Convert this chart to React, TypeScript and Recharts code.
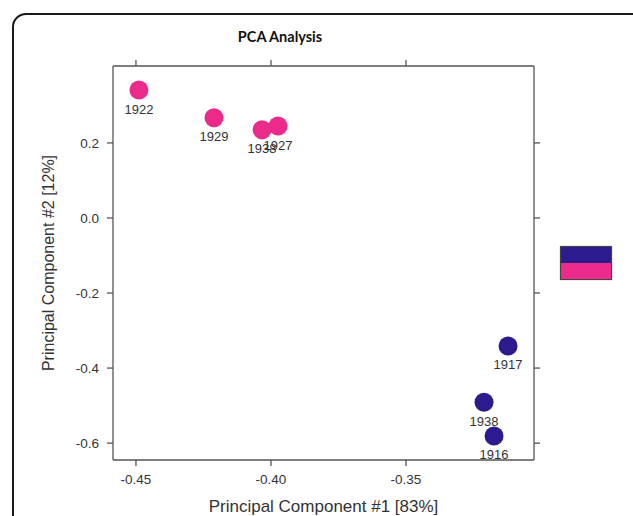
import { ScatterChart, Scatter, XAxis, YAxis, Legend } from "recharts";

// sample years and their PCA scores
const pinkYears = ["1922", "1929", "1938", "1927"];
const pinkPC1 = [-0.4489, -0.4211, -0.4033, -0.3974];
const pinkPC2 = [0.341, 0.267, 0.235, 0.245];

const navyYears = ["1917", "1938", "1916"];
const navyPC1 = [-0.3122, -0.3211, -0.3174];
const navyPC2 = [-0.341, -0.491, -0.581];

const xTicks = [-0.45, -0.4, -0.35];
const yTicks = [0.2, 0.0, -0.2, -0.4, -0.6];

const PINK = "#EC2A8C";
const NAVY = "#2C1B8F";
const AXIS = "#555";
const FONT = "'Liberation Sans', Arial, sans-serif";

const toPoints = (pc1: number[], pc2: number[], years: string[]) =>
  pc1.map((x, i) => ({ pc1: x, pc2: pc2[i], year: years[i] }));

const pinkData = toPoints(pinkPC1, pinkPC2, pinkYears);
const navyData = toPoints(navyPC1, navyPC2, navyYears);

const Dot = (props: any) => {
  const { cx, cy, fill, payload } = props;
  return (
    <g>
      <circle cx={cx} cy={cy} r={9.5} fill={fill} />
      <text
        x={cx}
        y={cy + 19}
        textAnchor="middle"
        dominantBaseline="central"
        fontSize={13}
        fontFamily={FONT}
        fill="#333"
      >
        {payload.year}
      </text>
    </g>
  );
};

const XLabel = (props: any) => {
  const { viewBox } = props;
  return (
    <text
      x={viewBox.x + viewBox.width / 2}
      y={viewBox.y + 46}
      textAnchor="middle"
      dominantBaseline="central"
      fontSize={17}
      fontFamily={FONT}
      fill="#333"
    >
      Principal Component #1 [83%]
    </text>
  );
};

const YLabel = (props: any) => {
  const { viewBox } = props;
  const x = 48;
  const y = viewBox.y + viewBox.height / 2;
  return (
    <text
      x={x}
      y={y}
      transform={`rotate(-90, ${x}, ${y})`}
      textAnchor="middle"
      dominantBaseline="central"
      fontSize={16}
      fontFamily={FONT}
      fill="#333"
    >
      Principal Component #2 [12%]
    </text>
  );
};

const KeyBox = (props: any) => {
  const { payload } = props;
  return (
    <div style={{ width: 50, border: "1px solid #444", boxShadow: "0 0 1px #888" }}>
      {(payload || []).map((p: any) => (
        <div key={p.value} style={{ height: 16, background: p.color }} />
      ))}
    </div>
  );
};

const noLabel = () => "";

export default function App() {
  const xDomain = [-0.4585, -0.3026];
  const yDomain = [-0.645, 0.405];
  const tickStyle = { fill: "#333", fontSize: 13.5, fontFamily: FONT };

  return (
    <div
      style={{
        position: "absolute",
        left: 0,
        top: 0,
        width: 633,
        height: 516,
        overflow: "hidden",
        background: "#fff",
      }}
    >
      <div
        style={{
          position: "absolute",
          left: 12,
          top: 13,
          width: 700,
          height: 600,
          border: "2px solid #1a1a1a",
          borderRadius: 14,
        }}
      />
      <div
        style={{
          position: "absolute",
          left: 180,
          width: 200,
          top: 28,
          textAlign: "center",
          fontFamily: "Lato, sans-serif",
          fontWeight: 700,
          fontSize: 14.5,
          color: "#111",
        }}
      >
        PCA Analysis
      </div>
      <div style={{ position: "absolute", left: 0, top: 0 }}>
        <ScatterChart
          width={633}
          height={516}
          margin={{ top: 56, right: 89, bottom: 16, left: 53 }}
        >
          <XAxis
            xAxisId="b"
            dataKey="pc1"
            type="number"
            orientation="bottom"
            domain={xDomain}
            allowDataOverflow
            ticks={xTicks}
            tickFormatter={(v: number) => v.toFixed(2)}
            height={40}
            tickSize={6}
            tickMargin={8}
            stroke={AXIS}
            strokeWidth={1.3}
            tick={tickStyle}
            label={<XLabel />}
          />
          <XAxis
            xAxisId="t"
            dataKey="pc1"
            type="number"
            orientation="top"
            domain={xDomain}
            allowDataOverflow
            ticks={xTicks}
            tickFormatter={noLabel}
            height={10}
            tickSize={6}
            stroke={AXIS}
            strokeWidth={1.3}
          />
          <YAxis
            yAxisId="l"
            dataKey="pc2"
            type="number"
            orientation="left"
            domain={yDomain}
            allowDataOverflow
            ticks={yTicks}
            tickFormatter={(v: number) => v.toFixed(1)}
            width={60}
            tickSize={6}
            tickMargin={8}
            stroke={AXIS}
            strokeWidth={1.3}
            tick={tickStyle}
            label={<YLabel />}
          />
          <YAxis
            yAxisId="r"
            dataKey="pc2"
            type="number"
            orientation="right"
            domain={yDomain}
            allowDataOverflow
            ticks={yTicks}
            tickFormatter={noLabel}
            width={10}
            tickSize={6}
            stroke={AXIS}
            strokeWidth={1.3}
          />
          <Legend
            layout="horizontal"
            verticalAlign="middle"
            align="center"
            wrapperStyle={{ left: 560, top: 246, width: 52 }}
            content={<KeyBox />}
          />
          <Scatter
            name="A"
            data={navyData}
            xAxisId="b"
            yAxisId="l"
            fill={NAVY}
            shape={<Dot />}
            isAnimationActive={false}
          />
          <Scatter
            name="B"
            data={pinkData}
            xAxisId="b"
            yAxisId="l"
            fill={PINK}
            shape={<Dot />}
            isAnimationActive={false}
          />
        </ScatterChart>
      </div>
    </div>
  );
}
